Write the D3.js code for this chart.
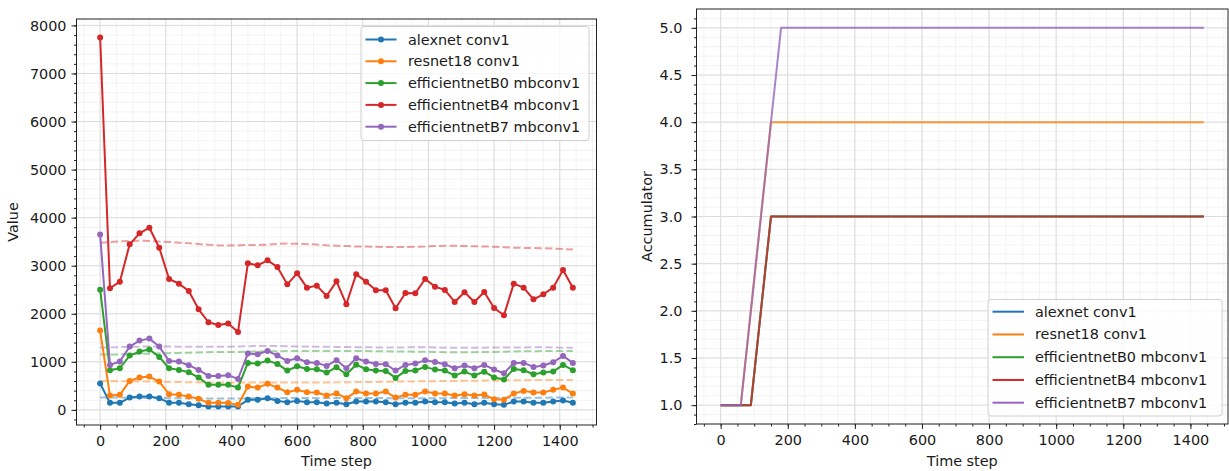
<!DOCTYPE html>
<html><head><meta charset="utf-8">
<script src="https://cdn.jsdelivr.net/npm/d3@7"></script>
<style>body{margin:0;background:#fff}svg{display:block}text{font-family:"DejaVu Sans",sans-serif;fill:#1a1a1a}</style>
</head><body><svg id="c" width="1229" height="471"></svg>
<script>
const timeSteps=[0,30,60,90,120,150,180,210,240,270,300,330,360,390,420,450,480,510,540,570,600,630,660,690,720,750,780,810,840,870,900,930,960,990,1020,1050,1080,1110,1140,1170,1200,1230,1260,1290,1320,1350,1380,1410,1440];
const seriesNames=["alexnet conv1","resnet18 conv1","efficientnetB0 mbconv1","efficientnetB4 mbconv1","efficientnetB7 mbconv1"];
const seriesColors=["#1f77b4","#ff7f0e","#2ca02c","#d62728","#9467bd"];

// Left panel: values per time step
const alexnetValues=[550,146,146,256,277,277,243,146,146,118,97,69,69,69,69,208,208,243,187,160,187,160,160,132,146,118,173,173,173,160,118,146,146,173,160,160,132,146,118,146,115,104,173,173,146,146,173,194,146];
const resnet18Values=[1650,298,312,603,673,693,589,326,312,277,229,146,146,142,104,485,464,541,464,367,416,367,360,298,340,243,381,340,340,381,256,312,312,381,340,340,298,326,298,320,220,208,340,395,360,360,416,464,340];
const effB0Values=[2500,825,866,1130,1213,1255,1102,866,832,783,673,520,520,520,464,977,963,1025,956,818,908,852,845,776,887,742,940,845,818,811,665,811,818,894,838,818,714,797,714,795,675,631,852,825,742,776,797,936,825];
const effB4Values=[7750,2530,2668,3444,3673,3791,3375,2723,2627,2474,2093,1823,1767,1798,1622,3049,3008,3111,2973,2613,2841,2543,2585,2370,2675,2197,2824,2668,2488,2488,2114,2432,2425,2723,2564,2495,2245,2446,2245,2453,2120,1968,2627,2543,2301,2405,2543,2911,2543];
const effB7Values=[3650,936,1005,1317,1441,1483,1317,1019,1005,929,832,707,707,721,644,1171,1157,1227,1130,1019,1074,991,977,915,1033,866,1074,1005,956,949,818,936,963,1033,998,949,866,922,866,936,840,762,977,977,894,922,991,1123,977];

// Left panel: dashed reference lines
const alexnetMean=[255,255,255,252,250,248,246,244,242,240,238,236,235,235,236,238,240,242,244,246,248,248,248,248,248,248,247,246,245,244,243,243,243,243,243,244,245,246,247,248,249,250,251,252,253,254,255,256,256];
const resnet18Mean=[600,600,595,595,590,590,585,580,580,575,575,570,570,570,570,570,570,570,570,568,568,568,568,570,572,575,578,580,582,585,588,590,592,595,597,600,602,605,607,610,612,614,616,618,620,620,622,622,623];
const effB0Mean=[1150,1150,1155,1160,1165,1170,1175,1180,1185,1190,1195,1200,1205,1205,1205,1210,1215,1220,1220,1225,1225,1225,1225,1225,1225,1225,1225,1225,1220,1220,1215,1215,1210,1210,1205,1200,1200,1200,1200,1205,1205,1210,1215,1220,1220,1225,1225,1225,1225];
const effB4Mean=[3480,3490,3505,3515,3520,3515,3505,3495,3480,3465,3450,3435,3425,3420,3425,3430,3430,3435,3455,3460,3455,3450,3440,3425,3415,3410,3400,3400,3395,3390,3390,3390,3395,3400,3410,3415,3415,3410,3405,3400,3395,3385,3375,3370,3370,3365,3355,3345,3335];
const effB7Mean=[1300,1300,1305,1310,1315,1320,1320,1320,1315,1315,1315,1315,1315,1315,1320,1325,1330,1330,1330,1325,1320,1320,1315,1315,1310,1310,1305,1305,1300,1300,1300,1300,1305,1305,1300,1295,1290,1290,1290,1295,1300,1300,1300,1300,1305,1305,1300,1295,1290];

// Right panel: accumulator
const alexnetAcc=[1,1,1,1,2,3,3,3,3,3,3,3,3,3,3,3,3,3,3,3,3,3,3,3,3,3,3,3,3,3,3,3,3,3,3,3,3,3,3,3,3,3,3,3,3,3,3,3,3];
const resnet18Acc=[1,1,1,2,3,4,4,4,4,4,4,4,4,4,4,4,4,4,4,4,4,4,4,4,4,4,4,4,4,4,4,4,4,4,4,4,4,4,4,4,4,4,4,4,4,4,4,4,4];
const effB0Acc=[1,1,1,1,2,3,3,3,3,3,3,3,3,3,3,3,3,3,3,3,3,3,3,3,3,3,3,3,3,3,3,3,3,3,3,3,3,3,3,3,3,3,3,3,3,3,3,3,3];
const effB4Acc=[1,1,1,1,2,3,3,3,3,3,3,3,3,3,3,3,3,3,3,3,3,3,3,3,3,3,3,3,3,3,3,3,3,3,3,3,3,3,3,3,3,3,3,3,3,3,3,3,3];
const effB7Acc=[1,1,1,2,3,4,5,5,5,5,5,5,5,5,5,5,5,5,5,5,5,5,5,5,5,5,5,5,5,5,5,5,5,5,5,5,5,5,5,5,5,5,5,5,5,5,5,5,5];

const timeTicks=[0,200,400,600,800,1000,1200,1400];
const valueTicks=[0,1000,2000,3000,4000,5000,6000,7000,8000];
const accTicks=[1.0,1.5,2.0,2.5,3.0,3.5,4.0,4.5,5.0];

const valueSeries=[alexnetValues,resnet18Values,effB0Values,effB4Values,effB7Values];
const meanSeries=[alexnetMean,resnet18Mean,effB0Mean,effB4Mean,effB7Mean];
const accSeries=[alexnetAcc,resnet18Acc,effB0Acc,effB4Acc,effB7Acc];

const svg=d3.select('#c');
const FS=14.4;

function padded(lo,hi){const m=(hi-lo)*0.05;return [lo-m,hi+m];}

function panel(box,xDom,yDom,yTicks,yMinorStep,yFmt,yPad,yLabel,yLabelX){
  const x=d3.scaleLinear().domain(xDom).range([box.l,box.r]);
  const y=d3.scaleLinear().domain(yDom).range([box.b,box.t]);
  const g=svg.append('g');
  const xMinor=d3.range(-50,1550,50).filter(v=>v>=xDom[0]&&v<=xDom[1]);
  const yStart=Math.ceil(yDom[0]/yMinorStep)*yMinorStep;
  const yMinor=d3.range(yStart,yDom[1],yMinorStep).map(v=>+v.toFixed(6));
  g.append('g').selectAll('line').data(xMinor).join('line')
    .attr('x1',d=>x(d)).attr('x2',d=>x(d)).attr('y1',box.t).attr('y2',box.b)
    .attr('stroke','#f0f0f0').attr('stroke-width',0.8);
  g.append('g').selectAll('line').data(yMinor).join('line')
    .attr('y1',d=>y(d)).attr('y2',d=>y(d)).attr('x1',box.l).attr('x2',box.r)
    .attr('stroke','#f0f0f0').attr('stroke-width',0.8);
  g.append('g').selectAll('line').data(timeTicks).join('line')
    .attr('x1',d=>x(d)).attr('x2',d=>x(d)).attr('y1',box.t).attr('y2',box.b)
    .attr('stroke','#dcdcdc').attr('stroke-width',1);
  g.append('g').selectAll('line').data(yTicks).join('line')
    .attr('y1',d=>y(d)).attr('y2',d=>y(d)).attr('x1',box.l).attr('x2',box.r)
    .attr('stroke','#dcdcdc').attr('stroke-width',1);
  const ax=g.append('g').attr('transform',`translate(0,${box.b})`)
    .call(d3.axisBottom(x).tickValues(timeTicks).tickSize(5).tickPadding(6).tickFormat(d3.format('d')));
  const axm=g.append('g').attr('transform',`translate(0,${box.b})`)
    .call(d3.axisBottom(x).tickValues(xMinor).tickSize(2.5).tickFormat(''));
  const ay=g.append('g').attr('transform',`translate(${box.l},0)`)
    .call(d3.axisLeft(y).tickValues(yTicks).tickSize(5).tickPadding(yPad).tickFormat(yFmt));
  const aym=g.append('g').attr('transform',`translate(${box.l},0)`)
    .call(d3.axisLeft(y).tickValues(yMinor).tickSize(2.5).tickFormat(''));
  [ax,axm,ay,aym].forEach(a=>{a.select('.domain').remove();a.selectAll('line').attr('stroke','#222');
    a.selectAll('text').style('font-size',FS+'px').style('font-family','"DejaVu Sans",sans-serif').attr('fill','#1a1a1a');});
  g.append('text').attr('x',(box.l+box.r)/2).attr('y',461).attr('text-anchor','middle')
    .attr('dominant-baseline','central').style('font-size',FS+'px').text('Time step');
  g.append('text').attr('transform',`translate(${yLabelX},${(box.t+box.b)/2}) rotate(-90)`)
    .attr('text-anchor','middle').attr('dominant-baseline','central').style('font-size',FS+'px').text(yLabel);
  return {x,y,g};
}

function frame(box){
  svg.append('rect').attr('x',box.l).attr('y',box.t).attr('width',box.r-box.l).attr('height',box.b-box.t)
    .attr('fill','none').attr('stroke','#222').attr('stroke-width',1);
}

function legend(lb,withMarker){
  const g=svg.append('g');
  g.append('rect').attr('x',lb.x).attr('y',lb.y).attr('width',lb.w).attr('height',lb.h).attr('rx',3)
    .attr('fill','#fff').attr('fill-opacity',0.8).attr('stroke','#d0d0d0').attr('stroke-width',1);
  seriesNames.forEach((n,i)=>{
    const cy=lb.y0+i*lb.dy;
    g.append('line').attr('x1',lb.h1).attr('x2',lb.h2).attr('y1',cy).attr('y2',cy)
      .attr('stroke',seriesColors[i]).attr('stroke-width',2);
    if(withMarker) g.append('circle').attr('cx',(lb.h1+lb.h2)/2).attr('cy',cy).attr('r',3).attr('fill',seriesColors[i]);
    g.append('text').attr('x',lb.tx).attr('y',cy).attr('dominant-baseline','central')
      .style('font-size',FS+'px').text(n);
  });
}

// ---------- Left panel ----------
const boxL={l:76.5,r:596.5,t:19,b:425};
const allVals=valueSeries.flat().concat(meanSeries.flat());
const xDomain=padded(d3.min(timeSteps),d3.max(timeSteps));
const L=panel(boxL,xDomain,padded(d3.min(allVals),d3.max(allVals)),valueTicks,200,d3.format('d'),5,'Value',13);
const lineL=vals=>d3.line().x((d,i)=>L.x(timeSteps[i])).y(d=>L.y(d))(vals);
meanSeries.forEach((s,i)=>{
  L.g.append('path').attr('d',lineL(s)).attr('fill','none').attr('stroke',seriesColors[i])
    .attr('stroke-width',2).attr('stroke-opacity',0.45).attr('stroke-dasharray','7.4,3.2');
});
valueSeries.forEach((s,i)=>{
  L.g.append('path').attr('d',lineL(s)).attr('fill','none').attr('stroke',seriesColors[i])
    .attr('stroke-width',2).attr('stroke-linejoin','round');
  L.g.append('g').selectAll('circle').data(s).join('circle')
    .attr('cx',(d,j)=>L.x(timeSteps[j])).attr('cy',d=>L.y(d)).attr('r',3).attr('fill',seriesColors[i]);
});
frame(boxL);
legend({x:361,y:26.5,w:228,h:114,y0:39.5,dy:21.8,h1:365.5,h2:396.5,tx:408},true);

// ---------- Right panel ----------
const boxR={l:696.5,r:1228,t:9,b:424};
const allAcc=accSeries.flat();
const R=panel(boxR,xDomain,padded(d3.min(allAcc),d3.max(allAcc)),accTicks,0.1,d3.format('.1f'),9,'Accumulator',647);
const lineR=vals=>d3.line().x((d,i)=>R.x(timeSteps[i])).y(d=>R.y(d))(vals);
accSeries.forEach((s,i)=>{
  R.g.append('path').attr('d',lineR(s)).attr('fill','none').attr('stroke',seriesColors[i])
    .attr('stroke-width',2).attr('stroke-opacity',0.8).attr('stroke-linejoin','round');
});
frame(boxR);
legend({x:988,y:299.5,w:234,h:116.5,y0:311.7,dy:22.75,h1:992.5,h2:1024,tx:1035},false);
</script></body></html>
